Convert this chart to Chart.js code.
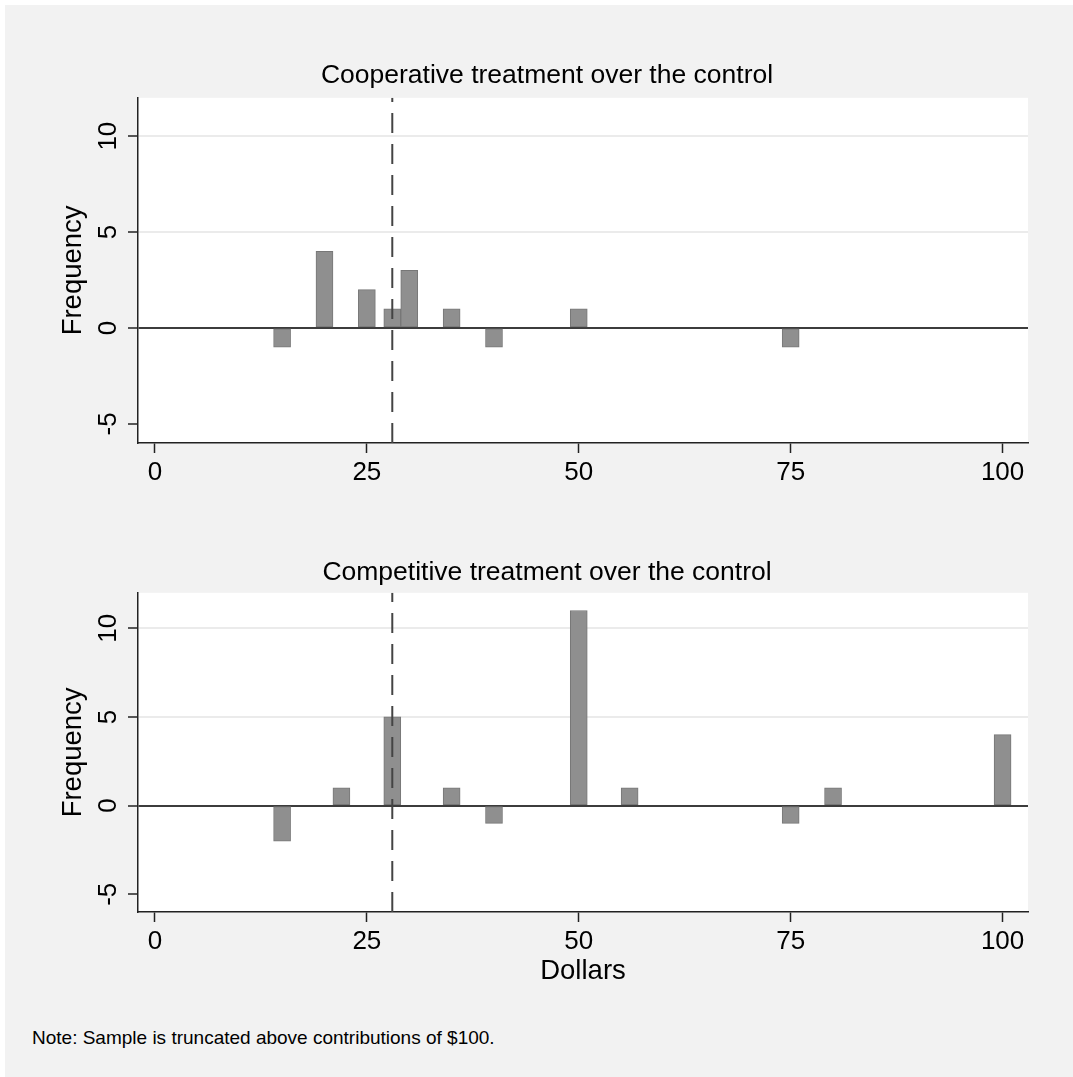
<!DOCTYPE html>
<html>
<head>
<meta charset="utf-8">
<script src="https://cdn.jsdelivr.net/npm/chart.js@4"></script>
<style>
  html, body { margin: 0; padding: 0; background: #fff; }
  body { width: 1073px; height: 1077px; position: relative; overflow: hidden; }
  #frame { position: absolute; left: 5px; top: 5px; right: 0; bottom: 0; background: #f2f2f2; }
  canvas { position: absolute; }
  #c1 { left: 21px; top: 0; }
  #c2 { left: 21px; top: 505px; }
  #note { position: absolute; left: 32px; top: 1027px; font: 19px/22px "Liberation Sans", Arial, sans-serif; color: #000; }
</style>
</head>
<body>
<div id="frame"></div>
<canvas id="c1" width="1052" height="505"></canvas>
<canvas id="c2" width="1052" height="505"></canvas>
<div id="note">Note: Sample is truncated above contributions of $100.</div>
<script>
// --- data ---
const coopDollars = [15, 20, 25, 28, 30, 35, 40, 50, 75];
const coopFreq    = [-1, 4, 2, 1, 3, 1, -1, 1, -1];
const compDollars = [15, 22, 28, 35, 40, 50, 56, 75, 80, 100];
const compFreq    = [-2, 1, 5, 1, -1, 11, 1, -1, 1, 4];
const xTickVals = [0, 25, 50, 75, 100];
const yTickVals = [-5, 0, 5, 10];
const refDollars = 28;   // dashed reference line
const xMin = -2, xMax = 103;
const yMin = -6, yMax = 12;

Chart.defaults.font.family = '"Liberation Sans", Arial, Helvetica, sans-serif';
Chart.defaults.color = '#000';

const plotBg = {
  id: 'plotBg',
  beforeDraw(chart) {
    const a = chart.chartArea, ctx = chart.ctx;
    ctx.save();
    ctx.fillStyle = '#fff';
    ctx.fillRect(a.left, a.top, a.right - a.left, a.bottom - a.top);
    ctx.restore();
  }
};

function panel(id, title, xs, ys, o) {
  const bars = xs.map((x, i) => ({ x: x, y: ys[i] }));
  return new Chart(document.getElementById(id), {
    type: 'bar',
    data: {
      datasets: [
        { type: 'bar', data: bars, backgroundColor: '#8f8f8f', borderColor: '#777',
          borderWidth: 1, borderSkipped: false, barThickness: 17, order: 2 },
        { type: 'line', data: [{ x: refDollars, y: yMin }, { x: refDollars, y: yMax }],
          borderColor: '#444', borderWidth: 2, borderDash: [20, 11], pointRadius: 0, order: 1 }
      ]
    },
    options: {
      responsive: false, animation: false, events: [],
      plugins: {
        legend: { display: false },
        tooltip: { enabled: false },
        title: { display: true, text: title, color: '#000', font: { size: 26.5, weight: 'normal' },
                 padding: { top: o.titleTop, bottom: o.titleBottom } }
      },
      scales: {
        x: {
          type: 'linear', min: xMin, max: xMax, offset: false,
          afterBuildTicks: s => { s.ticks = xTickVals.map(v => ({ value: v })); },
          afterFit: s => { s.height = o.xHeight; },
          grid: { offset: false, drawOnChartArea: false, tickLength: 10, tickColor: '#222', tickWidth: 1.5 },
          border: { color: '#222', width: 1.5 },
          ticks: { font: { size: 26 }, padding: 4, maxRotation: 0, autoSkip: false },
          title: { display: !!o.xTitle, text: o.xTitle || '', font: { size: 27.5 },
                   padding: { top: 0, bottom: o.xTitleBottom || 0 } }
        },
        y: {
          min: yMin, max: yMax,
          afterBuildTicks: s => { s.ticks = yTickVals.map(v => ({ value: v })); },
          afterFit: s => { s.width = 117; },
          grid: {
            color: c => c.tick.value === 0 ? '#3c3c3c' : (c.tick.value > 0 ? '#ebebeb' : 'rgba(0,0,0,0)'),
            lineWidth: 2, tickLength: 10, tickColor: '#222', tickWidth: 1.5
          },
          border: { color: '#222', width: 1.5 },
          ticks: { font: { size: 26 }, padding: 5, minRotation: 90, maxRotation: 90, crossAlign: 'center' },
          title: { display: true, text: 'Frequency', font: { size: 27.5 }, padding: { top: 36, bottom: 0 } }
        },
        // empty right-hand margin so the title centres over the whole graph
        yPad: {
          position: 'right', min: yMin, max: yMax,
          afterFit: s => { s.width = 45; },
          grid: { display: false }, border: { display: false }, ticks: { display: false }
        }
      }
    },
    plugins: [plotBg]
  });
}

panel('c1', 'Cooperative treatment over the control', coopDollars, coopFreq,
      { titleTop: 60, titleBottom: 6, xHeight: 62 });
panel('c2', 'Competitive treatment over the control', compDollars, compFreq,
      { titleTop: 52, titleBottom: 4, xHeight: 98, xTitle: 'Dollars', xTitleBottom: 22 });
</script>
</body>
</html>
